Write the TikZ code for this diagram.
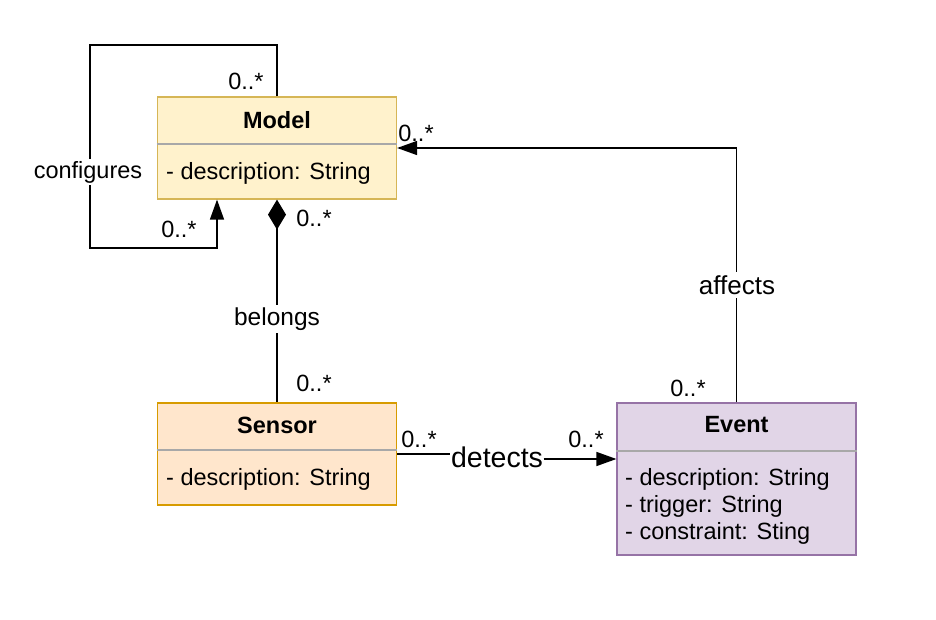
\documentclass[tikz,border=0pt]{standalone}
\usepackage{fontspec}
\setmainfont{Liberation Sans}
\usetikzlibrary{arrows.meta,positioning}
\definecolor{mFill}{HTML}{FFF2CC}\definecolor{mLine}{HTML}{D6B656}
\definecolor{sFill}{HTML}{FFE6CC}\definecolor{sLine}{HTML}{D79B00}
\definecolor{eFill}{HTML}{E1D5E7}\definecolor{eLine}{HTML}{9673A6}
\definecolor{sepc}{HTML}{A8A8A8}
\begin{document}
\begin{tikzpicture}[x=1pt,y=-1pt,
  cls/.style={draw,line width=1.2pt,inner sep=0pt,minimum width=239pt},
  sepline/.style={draw=sepc,line width=1.2pt},
  ttl/.style={font=\fontsize{23.5}{27}\selectfont\bfseries,inner sep=0pt},
  attr/.style={font=\fontsize{23.5}{27}\selectfont,inner sep=0pt,anchor=west,align=left},
  mult/.style={font=\fontsize{23.5}{27}\selectfont,inner sep=0pt},
  lbl/.style={font=\fontsize{24.5}{28}\selectfont,fill=white,inner sep=1pt},
  conn/.style={line width=1.4pt,draw=black},
  tri/.style={-{Triangle[length=20pt,width=14pt]}}
]
\useasboundingbox[fill=white] (0,0) rectangle (936,620);

% classes
\node[cls,fill=mFill,draw=mLine,minimum height=102pt] (model) at (277,148) {};
\node[cls,fill=sFill,draw=sLine,minimum height=102pt] (sensor) at (277,454) {};
\node[cls,fill=eFill,draw=eLine,minimum height=152pt] (event) at (736.5,479) {};

\draw[sepline] ([yshift=4pt]model.west) -- ([yshift=4pt]model.east);
\draw[sepline] ([yshift=4pt]sensor.west) -- ([yshift=4pt]sensor.east);
\draw[sepline] ([yshift=28pt]event.west) -- ([yshift=28pt]event.east);

\node[ttl] (modelT) at (277,120) {Model};
\node[attr] (modelA) at (166,173) {- description: String};
\node[ttl] (sensorT) at (277,425) {Sensor};
\node[attr] (sensorA) at (166,479) {- description: String};
\node[ttl] (eventT) at (736.5,425) {Event};
\node[attr] (eventA1) at (625,479) {- description: String};
\node[attr] (eventA2) at (625,506) {- trigger: String};
\node[attr] (eventA3) at (625,533) {- constraint: Sting};

% configures (self loop)
\coordinate (cfgA) at (90,45);
\coordinate (cfgB) at (90,248);
\draw[conn,tri] (model.north) |- (cfgA) -- (cfgB) -| ([xshift=-60pt]model.south);
\node[lbl,font=\fontsize{23.5}{27}\selectfont,inner sep=2pt] (cfgL) at (88,172) {configures};
\node[mult] (m1) at (246,81) {0..*};
\node[mult] (m2) at (179,229) {0..*};

% belongs (composition)
\draw[conn,{Diamond[length=30pt,width=18pt]}-] (model.south) -- (sensor.north);
\node[lbl,inner sep=3pt] (belL) at (277,319) {belongs};
\node[mult] (m3) at (314,218) {0..*};
\node[mult] (m4) at (314,383) {0..*};

% detects
\node[lbl,font=\fontsize{28.5}{32}\selectfont,inner sep=0.5pt] (detL) at (497,457) {detects};
\draw[conn] (sensor.east) -- (detL.west |- sensor.east);
\draw[conn,tri] (detL.east |- 0,459) -- (event.west |- 0,459);
\node[mult] (m5) at (419,439) {0..*};
\node[mult] (m6) at (586,439) {0..*};

% affects
\draw[conn,tri] (event.north) |- (model.east);
\node[lbl,font=\fontsize{26}{30}\selectfont,inner sep=3pt] (affL) at (737,285) {affects};
\node[mult] (m7) at (688,388) {0..*};
\node[mult] (m8) at (416,133) {0..*};
\end{tikzpicture}
\end{document}
